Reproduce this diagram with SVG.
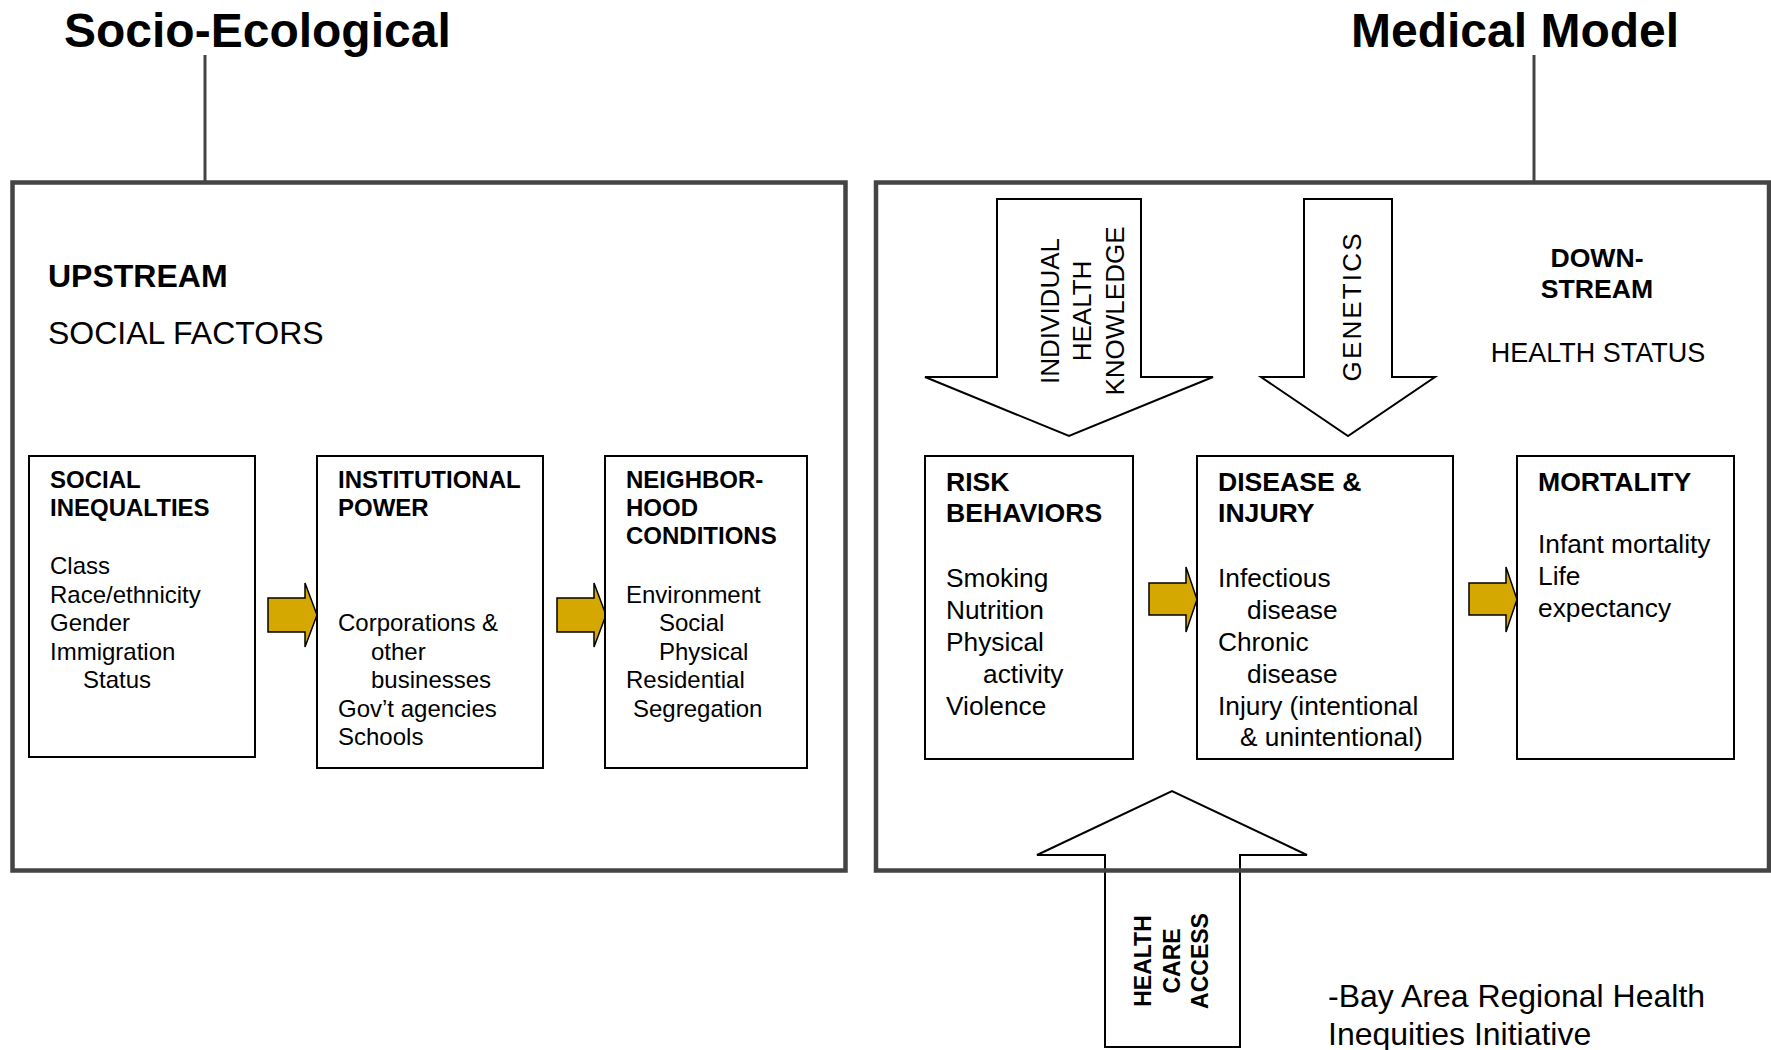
<svg xmlns="http://www.w3.org/2000/svg" width="1771" height="1050" viewBox="0 0 1771 1050">
<style>
text{font-family:"Liberation Sans",Arial,Helvetica,sans-serif;fill:#000}
.title{font-size:48px;font-weight:bold}
.big{font-size:32px}
.bigb{font-size:32px;font-weight:bold}
.hl{font-size:24px;font-weight:bold}
.bl{font-size:24px}
.hr{font-size:26.6px;font-weight:bold}
.br{font-size:26.3px}
.hs{font-size:27px}
.vr{font-size:26px}
.vb{font-size:23px;font-weight:bold}
.frame{fill:none;stroke:#444;stroke-width:4.5}
.stem{stroke:#444;stroke-width:3;fill:none}
.box{fill:#fff;stroke:#000;stroke-width:2}
.gold{fill:#D4A800;stroke:#000;stroke-width:1.5;stroke-linejoin:miter}
.bigarrow{fill:#fff;stroke:#000;stroke-width:2;stroke-linejoin:miter}
</style>
<rect width="1771" height="1050" fill="#fff"/>

<g id="title-socio">
<text class="title" x="64" y="47">Socio-Ecological</text>
</g>
<g id="title-medical">
<text class="title" x="1351" y="47">Medical Model</text>
</g>

<g id="health-care-access">
<path class="bigarrow" d="M1105,1047 V855 H1037 L1172,791 L1307,855 H1240 V1047 Z"/>
<text class="vb" text-anchor="middle" transform="translate(1151,961) rotate(-90)">HEALTH</text>
<text class="vb" text-anchor="middle" transform="translate(1179.5,961) rotate(-90)">CARE</text>
<text class="vb" text-anchor="middle" transform="translate(1208,961) rotate(-90)">ACCESS</text>
</g>

<g id="socio-frame">
<rect class="frame" x="12.5" y="182.5" width="833" height="688"/>
<text class="bigb" x="48" y="287">UPSTREAM</text>
<text class="big" x="48" y="344">SOCIAL FACTORS</text>
</g>

<g id="medical-frame">
<rect class="frame" x="876" y="182.5" width="893" height="688"/>
<text class="hr" text-anchor="middle" x="1597" y="267">DOWN-</text>
<text class="hr" text-anchor="middle" x="1597" y="298">STREAM</text>
<text class="hs" text-anchor="middle" x="1598" y="362">HEALTH STATUS</text>
</g>

<g id="connectors">
<line class="stem" x1="205" y1="55" x2="205" y2="182"/>
<line class="stem" x1="1534" y1="55" x2="1534" y2="182"/>
<path class="gold" d="M268,598 H305 V583 L317,615 L305,647 V632 H268 Z"/>
<path class="gold" d="M557,598 H594 V583 L606,615 L594,647 V632 H557 Z"/>
<path class="gold" d="M1149,583 H1186 V567 L1197,599.5 L1186,632 V615 H1149 Z"/>
<path class="gold" d="M1469,583 H1506 V567 L1517,599.5 L1506,632 V615 H1469 Z"/>
</g>

<g id="individual-health-knowledge">
<path class="bigarrow" d="M997,199 H1141 V377 H1213 L1069,436 L925,377 H997 Z"/>
<text class="vr" text-anchor="middle" transform="translate(1059,311) rotate(-90)">INDIVIDUAL</text>
<text class="vr" text-anchor="middle" transform="translate(1091,311) rotate(-90)">HEALTH</text>
<text class="vr" text-anchor="middle" transform="translate(1124,311) rotate(-90)">KNOWLEDGE</text>
</g>

<g id="genetics">
<path class="bigarrow" d="M1304,199 H1392 V377 H1435 L1348,436 L1261,377 H1304 Z"/>
<text class="vr" text-anchor="middle" textLength="148" lengthAdjust="spacing" transform="translate(1361,307.5) rotate(-90)">GENETICS</text>
</g>

<g id="social-inequalities">
<rect class="box" x="29" y="456" width="226" height="301"/>
<text class="hl" x="50" y="488">SOCIAL</text>
<text class="hl" x="50" y="516">INEQUALTIES</text>
<text class="bl" x="50" y="574">Class</text>
<text class="bl" x="50" y="603">Race/ethnicity</text>
<text class="bl" x="50" y="631">Gender</text>
<text class="bl" x="50" y="660">Immigration</text>
<text class="bl" x="83" y="688">Status</text>
</g>

<g id="institutional-power">
<rect class="box" x="317" y="456" width="226" height="312"/>
<text class="hl" x="338" y="488">INSTITUTIONAL</text>
<text class="hl" x="338" y="516">POWER</text>
<text class="bl" x="338" y="631">Corporations &amp;</text>
<text class="bl" x="371" y="660">other</text>
<text class="bl" x="371" y="688">businesses</text>
<text class="bl" x="338" y="717">Gov’t agencies</text>
<text class="bl" x="338" y="745">Schools</text>
</g>

<g id="neighborhood-conditions">
<rect class="box" x="605" y="456" width="202" height="312"/>
<text class="hl" x="626" y="488">NEIGHBOR-</text>
<text class="hl" x="626" y="516">HOOD</text>
<text class="hl" x="626" y="544">CONDITIONS</text>
<text class="bl" x="626" y="603">Environment</text>
<text class="bl" x="659" y="631">Social</text>
<text class="bl" x="659" y="660">Physical</text>
<text class="bl" x="626" y="688">Residential</text>
<text class="bl" x="633" y="717">Segregation</text>
</g>

<g id="risk-behaviors">
<rect class="box" x="925" y="456" width="208" height="303"/>
<text class="hr" x="946" y="491">RISK</text>
<text class="hr" x="946" y="522">BEHAVIORS</text>
<text class="br" x="946" y="587">Smoking</text>
<text class="br" x="946" y="619">Nutrition</text>
<text class="br" x="946" y="651">Physical</text>
<text class="br" x="983" y="683">activity</text>
<text class="br" x="946" y="715">Violence</text>
</g>

<g id="disease-injury">
<rect class="box" x="1197" y="456" width="256" height="303"/>
<text class="hr" x="1218" y="491">DISEASE &amp;</text>
<text class="hr" x="1218" y="522">INJURY</text>
<text class="br" x="1218" y="587">Infectious</text>
<text class="br" x="1247" y="619">disease</text>
<text class="br" x="1218" y="651">Chronic</text>
<text class="br" x="1247" y="683">disease</text>
<text class="br" x="1218" y="715">Injury (intentional</text>
<text class="br" x="1240" y="746">&amp; unintentional)</text>
</g>

<g id="mortality">
<rect class="box" x="1517" y="456" width="217" height="303"/>
<text class="hr" x="1538" y="491">MORTALITY</text>
<text class="br" x="1538" y="553">Infant mortality</text>
<text class="br" x="1538" y="585">Life</text>
<text class="br" x="1538" y="617">expectancy</text>
</g>

<g id="credit">
<text class="big" x="1328" y="1007">-Bay Area Regional Health</text>
<text class="big" x="1328" y="1045">Inequities Initiative</text>
</g>
</svg>
